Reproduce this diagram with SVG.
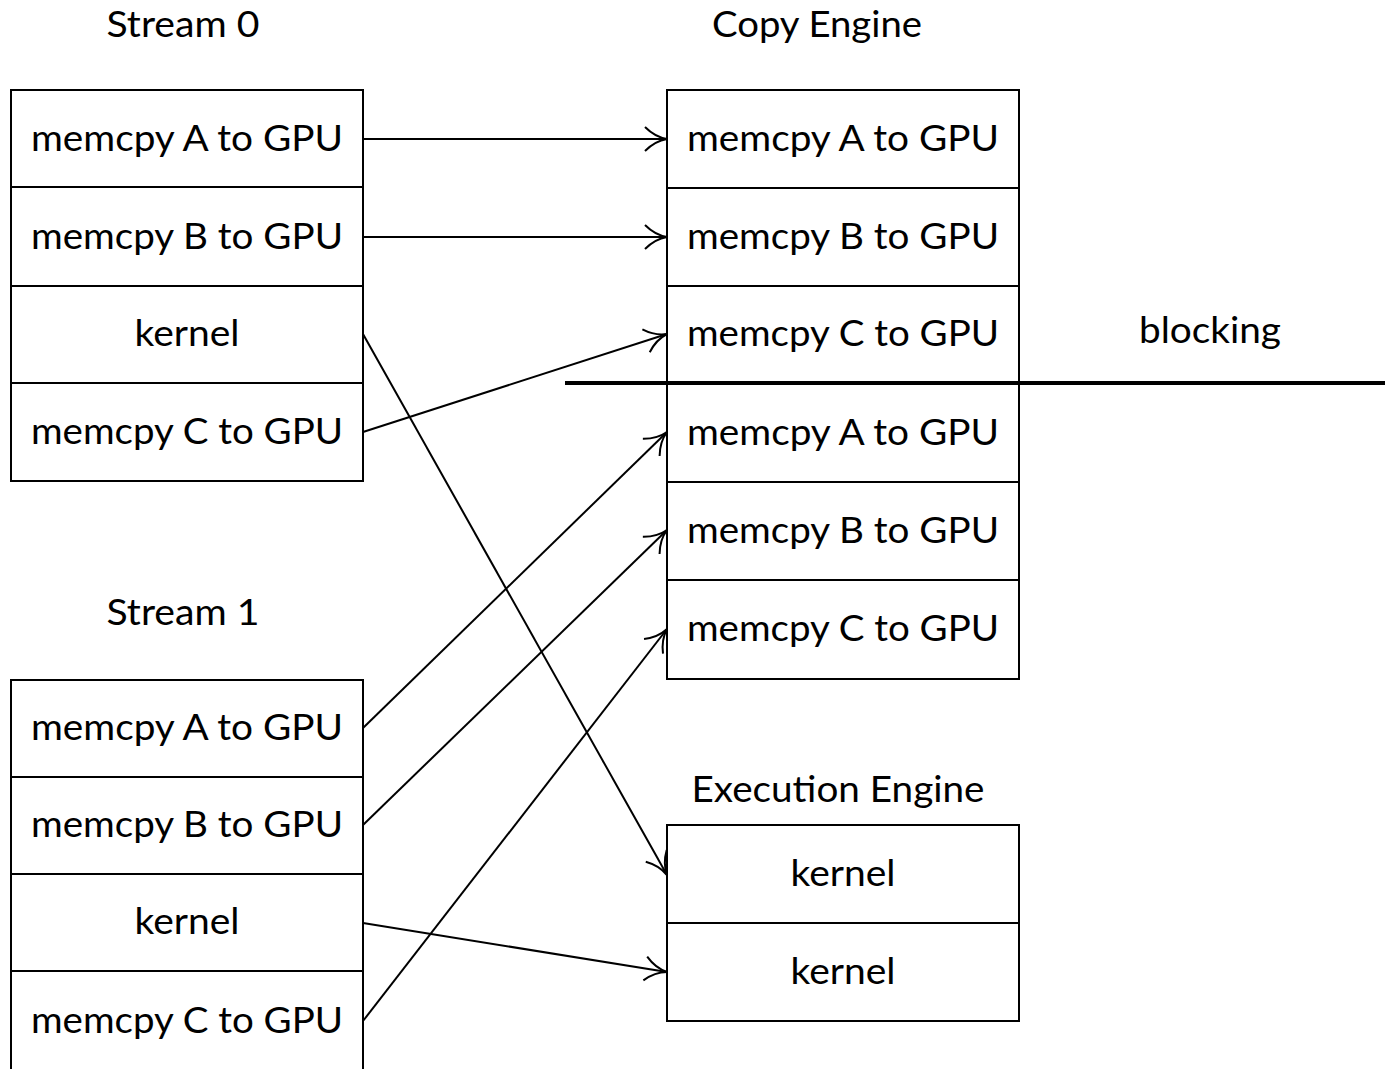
<svg xmlns="http://www.w3.org/2000/svg" width="1385" height="1069" viewBox="0 0 1385 1069">
<style>
.box{fill:#fff;stroke:#000;stroke-width:2}
.t{font-family:Lato,"Open Sans","Liberation Sans",sans-serif;font-size:36px;fill:#000;text-anchor:middle}
.c{stroke:#000;stroke-width:2;fill:none;marker-end:url(#ah)}
</style>
<defs>
<marker id="ah" viewBox="0 0 28 28" refX="26" refY="14" markerWidth="28" markerHeight="28" markerUnits="userSpaceOnUse" orient="auto">
<path d="M4,2 Q14,12 26,14 Q14,16 4,26" fill="none" stroke="#000" stroke-width="2"/>
</marker>
</defs>
<rect width="1385" height="1069" fill="#fff"/>
<g id="labels">
<text class="t" x="183" y="37" textLength="153" lengthAdjust="spacingAndGlyphs">Stream 0</text>
<text class="t" x="817" y="37" textLength="210" lengthAdjust="spacingAndGlyphs">Copy Engine</text>
<text class="t" x="183" y="625" textLength="153" lengthAdjust="spacingAndGlyphs">Stream 1</text>
<text class="t" x="838" y="802" textLength="293" lengthAdjust="spacingAndGlyphs">Execution Engine</text>
<text class="t" x="1210" y="343" textLength="142" lengthAdjust="spacingAndGlyphs">blocking</text>
</g>
<g id="stream0">
<rect class="box" x="11" y="90" width="352" height="97"/>
<rect class="box" x="11" y="187" width="352" height="99"/>
<rect class="box" x="11" y="286" width="352" height="97"/>
<rect class="box" x="11" y="383" width="352" height="98"/>
<text class="t" x="187" y="151" textLength="312" lengthAdjust="spacingAndGlyphs">memcpy A to GPU</text>
<text class="t" x="187" y="249" textLength="312" lengthAdjust="spacingAndGlyphs">memcpy B to GPU</text>
<text class="t" x="187" y="346" textLength="105" lengthAdjust="spacingAndGlyphs">kernel</text>
<text class="t" x="187" y="444" textLength="312" lengthAdjust="spacingAndGlyphs">memcpy C to GPU</text>
</g>
<g id="copyengine">
<rect class="box" x="667" y="90" width="352" height="98"/>
<rect class="box" x="667" y="188" width="352" height="98"/>
<rect class="box" x="667" y="286" width="352" height="98"/>
<rect class="box" x="667" y="384" width="352" height="98"/>
<rect class="box" x="667" y="482" width="352" height="98"/>
<rect class="box" x="667" y="580" width="352" height="99"/>
<text class="t" x="843" y="151" textLength="312" lengthAdjust="spacingAndGlyphs">memcpy A to GPU</text>
<text class="t" x="843" y="249" textLength="312" lengthAdjust="spacingAndGlyphs">memcpy B to GPU</text>
<text class="t" x="843" y="346" textLength="312" lengthAdjust="spacingAndGlyphs">memcpy C to GPU</text>
<text class="t" x="843" y="445" textLength="312" lengthAdjust="spacingAndGlyphs">memcpy A to GPU</text>
<text class="t" x="843" y="543" textLength="312" lengthAdjust="spacingAndGlyphs">memcpy B to GPU</text>
<text class="t" x="843" y="641" textLength="312" lengthAdjust="spacingAndGlyphs">memcpy C to GPU</text>
</g>
<g id="stream1">
<rect class="box" x="11" y="680" width="352" height="97"/>
<rect class="box" x="11" y="777" width="352" height="97"/>
<rect class="box" x="11" y="874" width="352" height="97"/>
<rect class="box" x="11" y="971" width="352" height="110"/>
<text class="t" x="187" y="740" textLength="312" lengthAdjust="spacingAndGlyphs">memcpy A to GPU</text>
<text class="t" x="187" y="837" textLength="312" lengthAdjust="spacingAndGlyphs">memcpy B to GPU</text>
<text class="t" x="187" y="934" textLength="105" lengthAdjust="spacingAndGlyphs">kernel</text>
<text class="t" x="187" y="1033" textLength="312" lengthAdjust="spacingAndGlyphs">memcpy C to GPU</text>
</g>
<g id="execengine">
<rect class="box" x="667" y="825" width="352" height="98"/>
<rect class="box" x="667" y="923" width="352" height="98"/>
<text class="t" x="843" y="886" textLength="105" lengthAdjust="spacingAndGlyphs">kernel</text>
<text class="t" x="843" y="984" textLength="105" lengthAdjust="spacingAndGlyphs">kernel</text>
</g>
<g id="blocking">
<line x1="565" y1="383" x2="1385" y2="383" stroke="#000" stroke-width="4"/>
</g>
<g id="connectors">
<line class="c" x1="363" y1="139" x2="667" y2="139"/>
<line class="c" x1="363" y1="237" x2="667" y2="237"/>
<line class="c" x1="363" y1="334" x2="667" y2="875"/>
<line class="c" x1="363" y1="432" x2="667" y2="334"/>
<line class="c" x1="363" y1="728" x2="667" y2="432"/>
<line class="c" x1="363" y1="825" x2="667" y2="530"/>
<line class="c" x1="363" y1="923" x2="667" y2="972"/>
<line class="c" x1="363" y1="1021" x2="667" y2="629"/>
</g>
</svg>
